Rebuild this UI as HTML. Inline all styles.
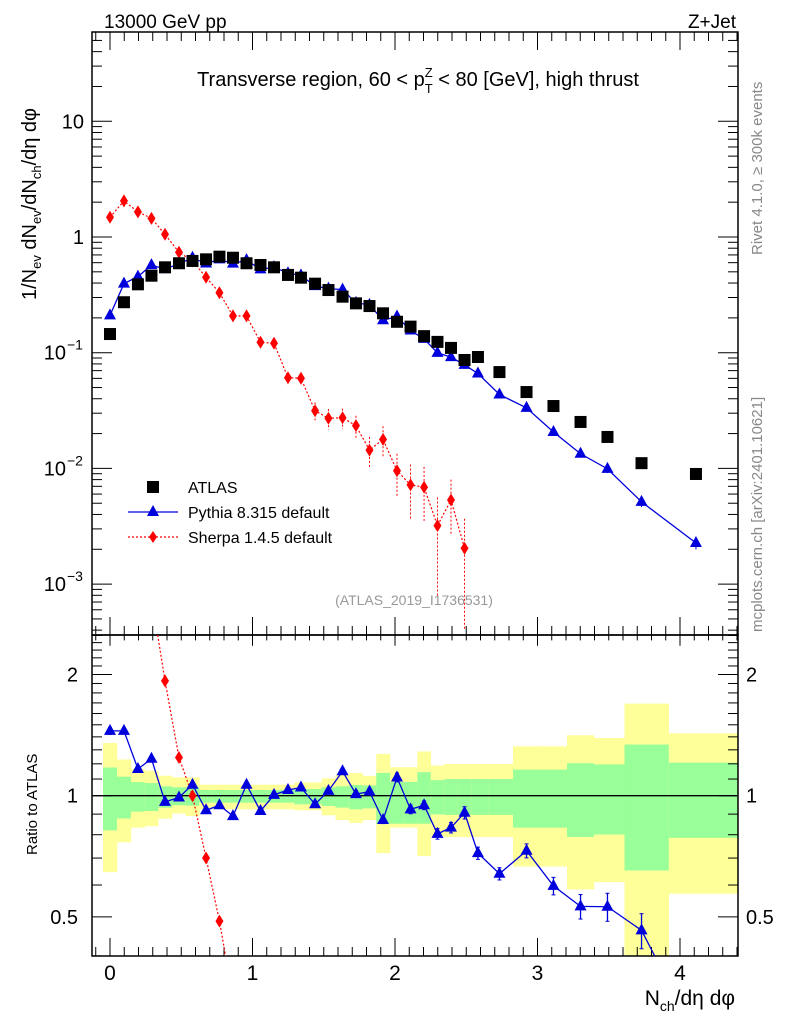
<!DOCTYPE html>
<html><head><meta charset="utf-8"><style>
html,body{margin:0;padding:0;background:#fff;width:786px;height:1024px;overflow:hidden}
svg{display:block;font-family:"Liberation Sans",sans-serif}
</style></head><body>
<svg id="c" width="786" height="1024" viewBox="0 0 786 1024">
<defs>
<clipPath id="cm"><rect x="92" y="32" width="646" height="603"/></clipPath>
<clipPath id="cr"><rect x="92" y="635" width="646" height="321"/></clipPath>
</defs>
<g id="bands" clip-path="url(#cr)"></g>
<g id="axes"></g>
<g id="mainMarks" clip-path="url(#cm)"></g>
<g id="ratioMarks" clip-path="url(#cr)"></g>
<text x="104" y="28" font-size="19">13000 GeV pp</text>
<text x="736" y="28" font-size="19" text-anchor="end">Z+Jet</text>
<text x="418" y="86" font-size="20" text-anchor="middle">Transverse region, 60 &lt; p<tspan font-size="13" dy="7">T</tspan><tspan font-size="13" dx="-8" dy="-16">Z</tspan><tspan dy="9"> &lt; 80 [GeV], high thrust</tspan></text>
<text transform="translate(762,255) rotate(-90)" font-size="15" fill="#888">Rivet 4.1.0, ≥ 300k events</text>
<text transform="translate(762,632) rotate(-90)" font-size="15" fill="#888">mcplots.cern.ch [arXiv:2401.10621]</text>
<text x="414" y="605" font-size="14" fill="#999" text-anchor="middle">(ATLAS_2019_I1736531)</text>
<text transform="translate(36,300) rotate(-90)" font-size="20">1/N<tspan font-size="13" dy="5">ev</tspan><tspan dy="-5"> dN</tspan><tspan font-size="13" dy="5">ev</tspan><tspan dy="-5">/dN</tspan><tspan font-size="13" dy="5">ch</tspan><tspan dy="-5">/dη dφ</tspan></text>
<text transform="translate(37,855) rotate(-90)" font-size="15">Ratio to ATLAS</text>
<text x="735" y="1005" font-size="21" text-anchor="end">N<tspan font-size="14" dy="6">ch</tspan><tspan dy="-6">/dη dφ</tspan></text>
<g>
<rect x="147" y="481" width="12" height="12" fill="#000"/>
<text x="188" y="493" font-size="16">ATLAS</text>
<line x1="128" y1="512" x2="178" y2="512" stroke="#0000dd" stroke-width="1.3"/>
<polygon points="153,505 159,516 147,516" fill="#0000dd"/>
<text x="188" y="518" font-size="16">Pythia 8.315 default</text>
<line x1="128" y1="537" x2="178" y2="537" stroke="#f00" stroke-width="1.3" stroke-dasharray="2,2"/>
<polygon points="153,531 157,537 153,543 149,537" fill="#f00"/>
<text x="188" y="543" font-size="16">Sherpa 1.4.5 default</text>
</g>
</svg>
<script>
const xVals=[0,.098,.196,.291,.386,.484,.579,.674,.768,.863,.958,1.056,1.151,1.249,1.34,1.439,1.533,1.632,1.726,1.821,1.916,2.014,2.109,2.204,2.298,2.393,2.488,2.582,2.733,2.923,3.112,3.302,3.491,3.73,4.112];
const atlasVals=[0.145,0.273,0.39,0.463,0.547,0.593,0.621,0.641,0.676,0.662,0.593,0.573,0.547,0.47,0.445,0.395,0.348,0.305,0.267,0.253,0.219,0.185,0.168,0.139,0.124,0.11,0.0865,0.0918,0.068,0.0457,0.0346,0.0252,0.0187,0.0111,0.00895];
const pythiaRatio=[1.449,1.449,1.165,1.235,0.965,0.99,1.065,0.92,0.947,0.89,1.065,0.916,1.005,1.033,1.048,0.952,1.028,1.15,1.009,1.024,0.87,1.11,0.925,0.947,0.804,0.833,0.907,0.72,0.64,0.73,0.597,0.531,0.53,0.463,0.253];
const pythiaErr=[0.02,0.015,0.012,0.012,0.01,0.01,0.01,0.01,0.01,0.01,0.01,0.01,0.012,0.012,0.012,0.015,0.015,0.018,0.018,0.02,0.02,0.025,0.025,0.025,0.03,0.03,0.035,0.035,0.035,0.04,0.05,0.07,0.08,0.1,0.12];
const sherpaVals=[1.48,2.05,1.65,1.45,1.055,0.738,0.621,0.449,0.33,0.208,0.208,0.123,0.1206,0.0608,0.0601,0.0315,0.0271,0.0274,0.0234,0.0144,0.0178,0.00955,0.0072,0.00687,0.0032,0.00533,0.00204];
const sherpaErr=[0.03,0.03,0.03,0.03,0.03,0.04,0.04,0.05,0.06,0.07,0.07,0.09,0.09,0.12,0.12,0.18,0.2,0.2,0.22,0.3,0.3,0.4,0.5,0.5,0.75,0.5,0.8];
const yelUp=[1.352,1.23,1.166,1.154,1.121,1.11,1.11,1.065,1.065,1.065,1.065,1.065,1.065,1.065,1.079,1.079,1.104,1.126,1.139,1.12,1.27,1.177,1.177,1.288,1.188,1.199,1.199,1.199,1.199,1.326,1.326,1.413,1.391,1.693,1.429];
const yelDn=[0.646,0.766,0.833,0.84,0.877,0.903,0.89,0.925,0.925,0.925,0.925,0.925,0.925,0.925,0.92,0.92,0.894,0.87,0.856,0.87,0.72,0.833,0.833,0.708,0.793,0.789,0.789,0.789,0.789,0.667,0.667,0.585,0.61,0.3,0.571];
const grnUp=[1.175,1.115,1.081,1.075,1.055,1.049,1.05,1.033,1.033,1.033,1.033,1.033,1.033,1.033,1.039,1.039,1.049,1.055,1.063,1.06,1.139,1.082,1.082,1.144,1.093,1.1,1.1,1.1,1.1,1.161,1.161,1.204,1.196,1.34,1.208];
const grnDn=[0.82,0.878,0.913,0.916,0.934,0.947,0.945,0.961,0.961,0.961,0.961,0.961,0.961,0.961,0.952,0.952,0.943,0.934,0.925,0.93,0.852,0.852,0.852,0.852,0.899,0.896,0.896,0.896,0.896,0.833,0.833,0.79,0.801,0.652,0.786];
const xTicks=["0","1","2","3","4"];
const ratioTicks=[2,1,0.5];

const NS="http://www.w3.org/2000/svg";
const X=v=>110+142.5*v;
const YM=v=>237-115.7*Math.log10(v);
const YR=r=>795.7-121.2*Math.log2(r);
const cl=(y,a,b)=>Math.max(a,Math.min(b,y));
function mk(parent,tag,attrs){const e=document.createElementNS(NS,tag);for(const k in attrs)e.setAttribute(k,attrs[k]);parent.appendChild(e);return e;}
// trim a polyline to y-range [lo,hi] with interpolation at the crossings
function trimPts(P,lo,hi){const out=[];for(let i=0;i<P.length;i++){const [x,y]=P[i];const inR=y>=lo&&y<=hi;
 if(i>0){const [x0,y0]=P[i-1];const in0=y0>=lo&&y0<=hi;
  if(in0!==inR||(!in0&&!inR&&((y0<lo&&y>hi)||(y0>hi&&y<lo)))){[lo,hi].forEach(b=>{if((y0-b)*(y-b)<0){const t=(b-y0)/(y-y0);out.push([x0+t*(x-x0),b]);}});}}
 if(inR)out.push([x,y]);}
 return out.sort((a,b)=>a[0]-b[0]).map(p=>p[0]+','+p[1]).join(' ');}
const axes=document.getElementById('axes'),bands=document.getElementById('bands'),mm=document.getElementById('mainMarks'),rm=document.getElementById('ratioMarks');
const edges=[];
for(let i=0;i<=xVals.length;i++){
  if(i==0)edges.push(xVals[0]-(xVals[1]-xVals[0])/2);
  else if(i==xVals.length)edges.push(4.404);
  else edges.push((xVals[i-1]+xVals[i])/2);
}
for(let i=0;i<xVals.length;i++){
  const yt=cl(YR(yelUp[i]),635,956),yb=cl(YR(yelDn[i]),635,956);
  const r1=mk(bands,'rect',{x:X(edges[i]),width:X(edges[i+1])-X(edges[i])+0.3,y:yt,height:yb-yt,fill:'#ffff99'});
  
  
  const gt=cl(YR(grnUp[i]),635,956),gb=cl(YR(grnDn[i]),635,956);
  const r2=mk(bands,'rect',{x:X(edges[i]),width:X(edges[i+1])-X(edges[i])+0.3,y:gt,height:gb-gt,fill:'#99ff99'});
  
  
}
mk(axes,'rect',{x:92,y:32,width:646,height:603,fill:'none',stroke:'#000','stroke-width':1.5});
mk(axes,'rect',{x:92,y:635,width:646,height:321,fill:'none',stroke:'#000','stroke-width':1.5});
mk(axes,'line',{x1:92,x2:738,y1:YR(1),y2:YR(1),stroke:'#000','stroke-width':1.3});
for(let k=-1;k<=44;k++){
  const v=k/10,px=X(v);if(px<92||px>738)continue;
  const maj=k%10==0;const L=maj?18:9;
  mk(axes,'line',{x1:px,x2:px,y1:32,y2:32+L,stroke:'#000'});
  mk(axes,'line',{x1:px,x2:px,y1:635,y2:635-L,stroke:'#000'});
  mk(axes,'line',{x1:px,x2:px,y1:635,y2:635+L*0.6,stroke:'#000'});
  mk(axes,'line',{x1:px,x2:px,y1:956,y2:956-L,stroke:'#000'});
}
xTicks.forEach((t,i)=>{const e=mk(axes,'text',{x:X(i),y:980,'font-size':21,'text-anchor':'middle'});e.textContent=t;

});
for(let d=-4;d<=1;d++){for(let m=1;m<10;m++){const v=m*Math.pow(10,d);const py=YM(v);if(py<32||py>635)continue;const L=m==1?20:10;
 mk(axes,'line',{x1:92,x2:92+L,y1:py,y2:py,stroke:'#000'});mk(axes,'line',{x1:738,x2:738-L,y1:py,y2:py,stroke:'#000'});}}
const mLab=[[10,'10',''],[1,'1',''],[0.1,'10','−1'],[0.01,'10','−2'],[0.001,'10','−3']];
mLab.forEach(l=>{const e=mk(axes,'text',{x:l[2]?66:84,y:YM(l[0])+7,'font-size':20,'text-anchor':'end'});e.textContent=l[1];


if(l[2]){const s=mk(axes,'text',{x:67,y:YM(l[0])-3,'font-size':14});s.textContent=l[2];}});
for(let r=0.4;r<=2.55;r+=0.1){const rr=Math.round(r*10)/10;const py=YR(rr);if(py<635||py>956)continue;const maj=ratioTicks.includes(rr);const L=maj?20:10;
 mk(axes,'line',{x1:92,x2:92+L,y1:py,y2:py,stroke:'#000'});mk(axes,'line',{x1:738,x2:738-L,y1:py,y2:py,stroke:'#000'});}
ratioTicks.forEach(t=>{const a=mk(axes,'text',{x:78,y:YR(t)+7,'font-size':20,'text-anchor':'end'});a.textContent=String(t);


const b=mk(axes,'text',{x:746,y:YR(t)+7,'font-size':20});b.textContent=String(t);

});
function tri(g,x,y,name){const p=mk(g,'polygon',{points:`${x},${y-7} ${x+6},${y+4} ${x-6},${y+4}`,fill:'#0000dd'});}
function dia(g,x,y,name){const p=mk(g,'polygon',{points:`${x},${y-6.5} ${x+4},${y} ${x},${y+6.5} ${x-4},${y}`,fill:'#f00'});}
// main: sherpa
mk(mm,'polyline',{points:trimPts(sherpaVals.map((v,i)=>[X(xVals[i]),YM(v)]),32,635),fill:'none',stroke:'#f00','stroke-width':1.2,'stroke-dasharray':'2,2'});
sherpaVals.forEach((v,i)=>{const px=X(xVals[i]);mk(mm,'line',{x1:px,x2:px,y1:cl(YM(v*(1+sherpaErr[i])),32,635),y2:cl(YM(Math.max(v*(1-sherpaErr[i]),1e-6)),32,635),stroke:'#f00','stroke-dasharray':'2,2'});dia(mm,px,YM(v),'sherpa-point');});
// main: pythia
const pyVals=atlasVals.map((a,i)=>a*pythiaRatio[i]);
mk(mm,'polyline',{points:pyVals.map((v,i)=>X(xVals[i])+','+YM(v)).join(' '),fill:'none',stroke:'#0000dd','stroke-width':1.3});
pyVals.forEach((v,i)=>{const px=X(xVals[i]);mk(mm,'line',{x1:px,x2:px,y1:YM(v*(1+pythiaErr[i])),y2:YM(v*(1-pythiaErr[i])),stroke:'#0000dd'});tri(mm,px,YM(v),'pythia-point');});
// main: atlas
atlasVals.forEach((v,i)=>{const r=mk(mm,'rect',{x:X(xVals[i])-6,y:YM(v)-6,width:12,height:12,fill:'#000'});

});
// ratio: sherpa
const sr=sherpaVals.map((v,i)=>v/atlasVals[i]);
mk(rm,'polyline',{points:trimPts(sr.map((v,i)=>[X(xVals[i]),YR(v)]),635,956),fill:'none',stroke:'#f00','stroke-width':1.2,'stroke-dasharray':'2,2'});
sr.forEach((v,i)=>{const y=YR(v);if(y>640&&y<950)dia(rm,X(xVals[i]),y,'sherpa-ratio-point');});
// ratio: pythia
mk(rm,'polyline',{points:trimPts(pythiaRatio.map((v,i)=>[X(xVals[i]),YR(v)]),635,956),fill:'none',stroke:'#0000dd','stroke-width':1.3});
pythiaRatio.forEach((v,i)=>{const px=X(xVals[i]);if(YR(v)>956)return;const y1=cl(YR(v*(1+pythiaErr[i])),635,956),y2=cl(YR(v*(1-pythiaErr[i])),635,956);
mk(rm,'line',{x1:px,x2:px,y1:y1,y2:y2,stroke:'#0000dd','stroke-width':1.3});
mk(rm,'line',{x1:px-2,x2:px+2,y1:y1,y2:y1,stroke:'#0000dd'});mk(rm,'line',{x1:px-2,x2:px+2,y1:y2,y2:y2,stroke:'#0000dd'});
tri(rm,px,YR(v),'pythia-ratio-point');});
</script>
</body></html>
